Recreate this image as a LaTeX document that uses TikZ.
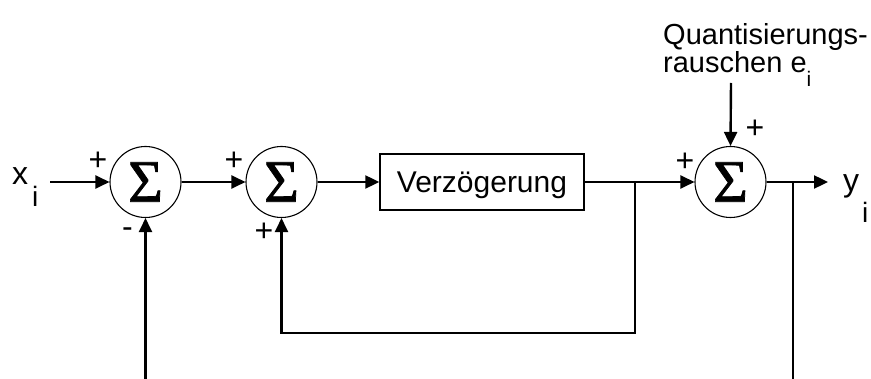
\documentclass[tikz,border=0pt]{standalone}
\usepackage{fontspec}
\setmainfont{Liberation Sans}
\newfontfamily\sigmafont[FakeBold=1.2]{Liberation Serif}
\usetikzlibrary{arrows.meta}

\begin{document}
\begin{tikzpicture}[x=1pt,y=-1pt,
  sumnode/.style={draw, circle, line width=1.1pt, minimum size=71pt, inner sep=0pt,
    font=\sigmafont\fontsize{60}{60}\selectfont},
  delaybox/.style={draw, line width=1.5pt, minimum width=204pt, minimum height=56pt,
    inner sep=0pt, text height=27pt, text depth=6pt, font=\fontsize{30}{30}\selectfont},
  sig/.style={inner sep=0pt, font=\fontsize{32}{32}\selectfont},
  lbl/.style={inner sep=0pt, anchor=base west, font=\fontsize{32}{32}\selectfont},
  sub/.style={inner sep=0pt, anchor=base west, font=\fontsize{28}{28}\selectfont},
  txt/.style={inner sep=0pt, anchor=base west, font=\fontsize{29}{29}\selectfont},
  wire/.style={line width=2.4pt},
  flow/.style={wire, -{Triangle[length=14pt,width=13pt]}}]
\useasboundingbox (0,0) rectangle (871,379);

% blocks
\node[sumnode] (s1) at (145.5,182) {Σ};
\node[sumnode] (s2) at (281.5,182) {Σ};
\node[delaybox] (d) at (482,182) {Verzögerung};
\node[sumnode] (s3) at (730.5,182) {Σ};

% free ends and branch points
\coordinate (xin) at (50,182);
\coordinate (b1) at (635,182);
\coordinate (fbr) at (635,333);
\coordinate (fbl) at (281.5,333);
\coordinate (yout) at (828,182);
\coordinate (b2) at (793,182);
\coordinate (b2end) at (793,379);
\coordinate (s1in) at (145.5,379);
\coordinate (noise) at (731,83);

% signal flow
\draw[flow] (xin) -- (s1.west);
\draw[flow] (s1.east) -- (s2.west);
\draw[flow] (s2.east) -- (d.west);
\draw[flow] (d.east) -- (s3.west);
\draw[flow] (b1) -- (fbr) -- (fbl) -- (s2.south);
\draw[flow] (s1in) -- (s1.south);
\draw[flow] (noise) -- (s3.north);
\draw[flow] (s3.east) -- (yout);
\draw[wire] (b2) -- (b2end);

% signs at the summing inputs
\node[sig] (p1a) at (98,161) {+};
\node[sig] (m1b) at (127.5,233) {-};
\node[sig] (p2a) at (234,161) {+};
\node[sig] (p2b) at (264,232.5) {+};
\node[sig] (p3a) at (685,162) {+};
\node[sig] (p3b) at (755,129) {+};

% signal names
\node[lbl] (xl) at (12,185) {x};
\node[sub] (xi) at (32,207) {i};
\node[lbl] (yl) at (843,191.5) {y};
\node[sub] (yi) at (862,223) {i};
\node[txt] (q1) at (663,45) {Quantisierungs-};
\node[txt] (q2) at (663,73) {rauschen e\raisebox{-14pt}{\fontsize{21}{21}\selectfont i}};
\end{tikzpicture}
\end{document}
